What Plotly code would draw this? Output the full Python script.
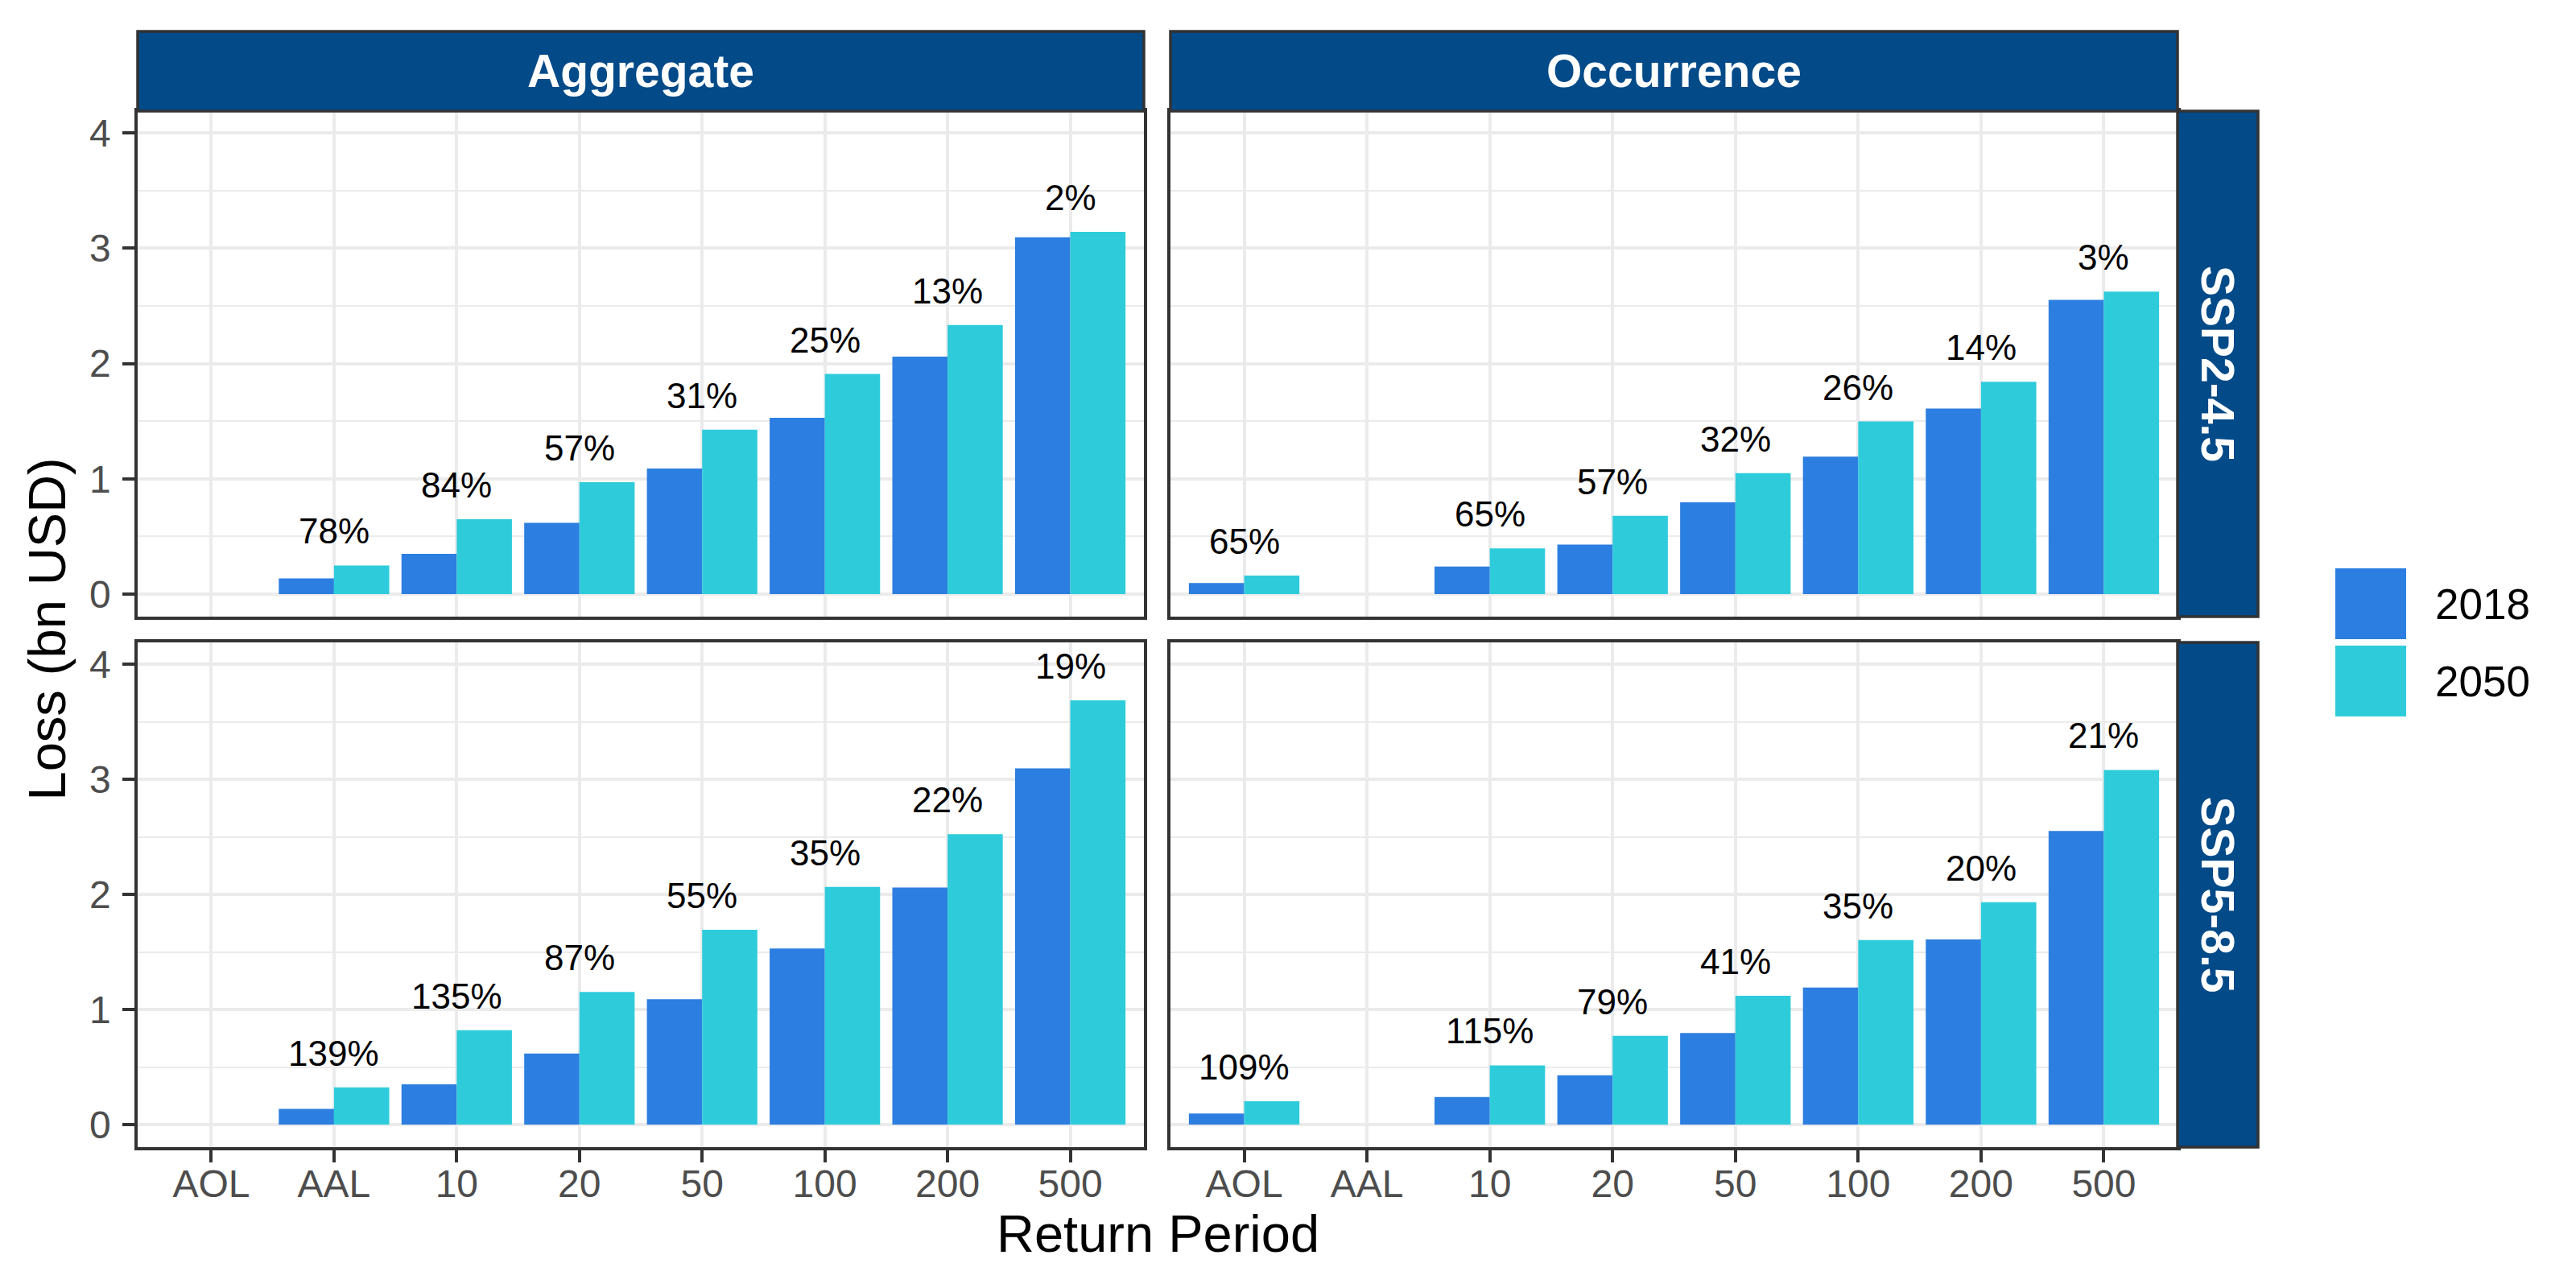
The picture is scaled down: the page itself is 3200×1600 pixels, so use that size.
import plotly.graph_objects as go

# ---------------- data ----------------
categories = ["AOL", "AAL", "10", "20", "50", "100", "200", "500"]
agg_cats = ["AAL", "10", "20", "50", "100", "200", "500"]
occ_cats = ["AOL", "10", "20", "50", "100", "200", "500"]

agg_2018 = [0.137, 0.350, 0.618, 1.090, 1.530, 2.060, 3.095]
agg_2050_ssp245 = [0.249, 0.650, 0.971, 1.426, 1.910, 2.335, 3.142]
agg_2050_ssp585 = [0.325, 0.820, 1.153, 1.693, 2.066, 2.524, 3.686]
occ_2018 = [0.097, 0.240, 0.430, 0.796, 1.192, 1.610, 2.552]
occ_2050_ssp245 = [0.161, 0.396, 0.679, 1.049, 1.498, 1.843, 2.625]
occ_2050_ssp585 = [0.203, 0.515, 0.772, 1.120, 1.604, 1.932, 3.082]

agg_pct_ssp245 = ["78%", "84%", "57%", "31%", "25%", "13%", "2%"]
agg_pct_ssp585 = ["139%", "135%", "87%", "55%", "35%", "22%", "19%"]
occ_pct_ssp245 = ["65%", "65%", "57%", "32%", "26%", "14%", "3%"]
occ_pct_ssp585 = ["109%", "115%", "79%", "41%", "35%", "20%", "21%"]

col_labels = ["Aggregate", "Occurrence"]
row_labels = ["SSP2-4.5", "SSP5-8.5"]
year_labels = ["2018", "2050"]
y_ticks = [0, 1, 2, 3, 4]
y_minor = [0.5, 1.5, 2.5, 3.5]

# ---------------- style ----------------
W, H = 3200, 1600
FONT = "Liberation Sans, Arial, sans-serif"
C2018 = "#2C7EE0"
C2050 = "#2ECCDB"
STRIP = "#024A88"
BORDER = "#333333"
GRID = "#EBEBEB"
TICKTXT = "#4D4D4D"

col_px = [(163, 1413), (1446, 2697)]
row_px = [(130, 758), (790, 1417)]
strip_top = 31
rstrip_x = (2697, 2797)


def fx(p):
    return p / W


def fy(p):
    return 1 - p / H


panels = [
    # (row, col, cats, v2018, v2050, pct)
    (0, 0, agg_cats, agg_2018, agg_2050_ssp245, agg_pct_ssp245),
    (0, 1, occ_cats, occ_2018, occ_2050_ssp245, occ_pct_ssp245),
    (1, 0, agg_cats, agg_2018, agg_2050_ssp585, agg_pct_ssp585),
    (1, 1, occ_cats, occ_2018, occ_2050_ssp585, occ_pct_ssp585),
]

fig = go.Figure()
annotations = []
shapes = []

for i, (r, c, cats, v18, v50, pct) in enumerate(panels):
    sfx = "" if i == 0 else str(i + 1)
    xref, yref = "x" + sfx, "y" + sfx
    fig.add_trace(go.Bar(x=cats, y=v18, name=year_labels[0], marker=dict(color=C2018, line=dict(width=0)),
                         xaxis=xref, yaxis=yref, showlegend=False, offsetgroup="a"))
    fig.add_trace(go.Bar(x=cats, y=v50, name=year_labels[1], marker=dict(color=C2050, line=dict(width=0)),
                         xaxis=xref, yaxis=yref, showlegend=False, offsetgroup="b"))
    for cat, a, b, t in zip(cats, v18, v50, pct):
        annotations.append(dict(x=categories.index(cat), y=max(a, b), xref=xref, yref=yref, text=t,
                                showarrow=False, yanchor="bottom", xanchor="center", yshift=16,
                                font=dict(family=FONT, size=44, color="black")))

    bottom = (r == 1)
    left = (c == 0)
    x0, x1 = col_px[c]
    y0, y1 = row_px[r]
    fig.layout["xaxis" + sfx] = dict(
        domain=[fx(x0), fx(x1)], anchor=yref, type="category",
        categoryorder="array", categoryarray=categories, range=[-0.6, 7.6],
        showgrid=True, gridcolor=GRID, gridwidth=4.4, zeroline=False,
        showline=True, linecolor=BORDER, linewidth=3.5, mirror=True,
        ticks="outside" if bottom else "", ticklen=15, tickwidth=4, tickcolor=BORDER,
        showticklabels=bottom, ticklabelstandoff=-14,
        tickfont=dict(family=FONT, size=48, color=TICKTXT), fixedrange=True,
    )
    fig.layout["yaxis" + sfx] = dict(
        domain=[fy(y1), fy(y0)], anchor=xref, range=[-0.195, 4.19],
        tickmode="array", tickvals=y_ticks, ticktext=[str(v) for v in y_ticks],
        showgrid=True, gridcolor=GRID, gridwidth=4.4, zeroline=False,
        minor=dict(tickmode="array", tickvals=y_minor, showgrid=True, gridcolor=GRID, gridwidth=2.2, ticks=""),
        showline=True, linecolor=BORDER, linewidth=3.5, mirror=True,
        ticks="outside" if left else "", ticklen=15, tickwidth=4, tickcolor=BORDER,
        showticklabels=left, ticklabelstandoff=5,
        tickfont=dict(family=FONT, size=48, color=TICKTXT), fixedrange=True,
    )

# column strips
for c, lab in enumerate(col_labels):
    x0, x1 = col_px[c]
    shapes.append(dict(type="rect", xref="paper", yref="paper", x0=fx(x0), x1=fx(x1),
                       y0=fy(row_px[0][0]), y1=fy(strip_top), fillcolor=STRIP,
                       line=dict(color=BORDER, width=3.5), layer="above"))
    annotations.append(dict(x=fx((x0 + x1) / 2), y=fy((strip_top + row_px[0][0]) / 2), xref="paper", yref="paper",
                            text=lab, showarrow=False, xanchor="center", yanchor="middle",
                            font=dict(family=FONT, size=57, color="white", weight="bold")))
# row strips
for r, lab in enumerate(row_labels):
    y0, y1 = row_px[r]
    shapes.append(dict(type="rect", xref="paper", yref="paper", x0=fx(rstrip_x[0]), x1=fx(rstrip_x[1]),
                       y0=fy(y1), y1=fy(y0), fillcolor=STRIP,
                       line=dict(color=BORDER, width=3.5), layer="above"))
    annotations.append(dict(x=fx((rstrip_x[0] + rstrip_x[1]) / 2), y=fy((y0 + y1) / 2), xref="paper", yref="paper",
                            text=lab, showarrow=False, xanchor="center", yanchor="middle", textangle=90,
                            font=dict(family=FONT, size=57, color="white", weight="bold")))

# legend (drawn keys)
key_x = (2893, 2981)
key_y = [(698, 786), (794, 882)]
for (ky0, ky1), col, lab in zip(key_y, [C2018, C2050], year_labels):
    shapes.append(dict(type="rect", xref="paper", yref="paper", x0=fx(key_x[0]), x1=fx(key_x[1]),
                       y0=fy(ky1), y1=fy(ky0), fillcolor=col, line=dict(width=0)))
    annotations.append(dict(x=fx(3015), y=fy((ky0 + ky1) / 2), xref="paper", yref="paper", text=lab,
                            showarrow=False, xanchor="left", yanchor="middle",
                            font=dict(family=FONT, size=53, color="black")))

# axis titles
annotations.append(dict(x=fx((col_px[0][0] + col_px[1][1]) / 2), y=fy(1524), xref="paper", yref="paper",
                        text="Return Period", showarrow=False, xanchor="center", yanchor="middle",
                        font=dict(family=FONT, size=65, color="black")))
annotations.append(dict(x=fx(50), y=fy((row_px[0][0] + row_px[1][1]) / 2), xref="paper", yref="paper",
                        text="Loss (bn USD)", showarrow=False, xanchor="center", yanchor="middle", textangle=-90,
                        font=dict(family=FONT, size=65, color="black")))

fig.update_layout(
    width=W, height=H, autosize=False,
    margin=dict(l=0, r=0, t=0, b=0),
    paper_bgcolor="white", plot_bgcolor="white",
    barmode="group", bargap=0.1, bargroupgap=0,
    showlegend=False,
    shapes=shapes, annotations=annotations,
    font=dict(family=FONT),
)

fig.write_html("out.html")
